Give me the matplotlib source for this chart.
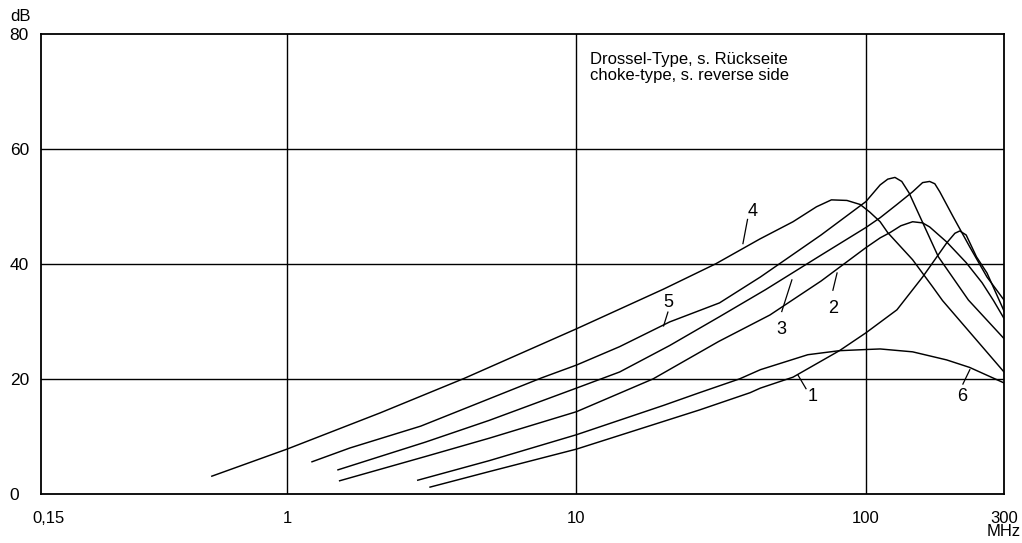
import matplotlib
matplotlib.use("Agg")
import matplotlib.pyplot as plt

plt.rcParams['font.family'] = ['Liberation Sans', 'DejaVu Sans']

# === data (MHz, dB) ===
x_ticks = [0.15, 1, 10, 100, 300]
x_tick_labels = ['0,15', '1', '10', '100', '300\nMHz']
y_ticks = [0, 20, 40, 60, 80]

c4_f = [0.55, 1, 2.1, 4.1, 10, 20, 30.3, 43, 56, 67.5, 76, 86, 95.5, 103, 112, 119, 145, 170, 184, 300]
c4_db = [3.1, 7.8, 14.1, 20.1, 28.7, 35.6, 40.0, 44.3, 47.3, 49.9, 51.1, 51.0, 50.3, 49.0, 47.3, 45.4, 40.7, 36.0, 33.6, 21.2]

c5_f = [1.22, 1.65, 2.9, 7.6, 10, 14.1, 21, 31.2, 43.2, 70, 100, 112, 119, 126, 133, 141, 178, 226, 300]
c5_db = [5.6, 8.0, 11.8, 20.2, 22.4, 25.6, 29.9, 33.2, 37.7, 45.0, 50.8, 53.7, 54.7, 55.0, 54.3, 52.3, 41.2, 33.7, 27.0]

c3_f = [1.5, 3, 5, 10, 14.1, 21, 31.2, 45, 70, 100, 112, 128, 145, 157, 166, 173, 180, 200, 228, 262, 300]
c3_db = [4.2, 9.0, 12.8, 18.4, 21.2, 25.8, 30.8, 35.5, 41.5, 46.3, 48.0, 50.3, 52.5, 54.1, 54.3, 53.9, 52.5, 48.2, 43.0, 37.7, 33.7]

c2_f = [1.52, 3, 5, 10, 18.4, 31, 46.6, 70, 100, 112, 121, 132, 145, 157, 166, 190, 222, 252, 276, 300]
c2_db = [2.3, 6.5, 9.7, 14.3, 20.0, 26.5, 31.1, 37.0, 42.8, 44.5, 45.4, 46.6, 47.3, 47.1, 46.4, 43.8, 40.2, 36.7, 33.6, 30.5]

c1_f = [3.12, 5, 10, 26.6, 39.8, 43.2, 56, 81, 100, 128, 157, 190, 203, 211, 222, 241, 262, 300]
c1_db = [1.2, 3.9, 7.8, 14.6, 17.6, 18.4, 20.3, 24.9, 28.0, 32.0, 37.7, 43.6, 45.3, 45.7, 45.0, 41.2, 38.4, 31.8]

c6_f = [2.83, 5, 10, 20, 26.6, 36.6, 43.2, 63, 81, 100, 112, 145, 190, 228, 300]
c6_db = [2.4, 5.8, 10.3, 15.4, 17.6, 20.0, 21.6, 24.2, 24.9, 25.1, 25.2, 24.7, 23.3, 22.0, 19.3]

curves = [(c1_f, c1_db), (c2_f, c2_db), (c3_f, c3_db), (c4_f, c4_db), (c5_f, c5_db), (c6_f, c6_db)]

# === figure ===
fig = plt.figure(figsize=(10.22, 5.43), dpi=100)
ax = fig.add_axes([0.0401, 0.0902, 0.9423, 0.8481])
ax.set_xscale('log')
ax.set_xlim(0.1413, 300)
ax.set_ylim(0, 80)

for v in [1, 10, 100]:
    ax.axvline(v, color='black', lw=1.0, zorder=1)
for v in [20, 40, 60]:
    ax.axhline(v, color='black', lw=1.0, zorder=1)

for f, db in curves:
    ax.plot(f, db, color='black', lw=1.05, zorder=2)

for s in ax.spines.values():
    s.set_linewidth(1.3)

ax.minorticks_off()
ax.set_xticks(x_ticks)
ax.set_xticklabels(x_tick_labels, fontsize=12, linespacing=0.9)
ax.set_yticks(y_ticks)
ax.set_yticklabels([str(v) for v in y_ticks], fontsize=12.5)
ax.tick_params(axis='x', length=0, pad=12)
ax.tick_params(axis='y', length=0, pad=22.5)
for lab in ax.get_yticklabels():
    lab.set_horizontalalignment('left')

ax.text(-0.0322, 1.036, 'dB', transform=ax.transAxes, ha='left', va='center', fontsize=12)

ax.text(0.570, 0.959, 'Drossel-Type, s. Rückseite\nchoke-type, s. reverse side',
        transform=ax.transAxes, ha='left', va='top', fontsize=12, linespacing=1.05)

# === curve numbers with short leader lines ===
labels = [
    ('4', (40.7, 49.0), (39.0, 47.7), (37.6, 43.5)),
    ('5', (20.7, 33.2), (20.7, 31.6), (20.0, 29.2)),
    ('3', (50.9, 28.5), (55.5, 37.2), (51.2, 31.7)),
    ('2', (76.9, 32.3), (79.5, 38.4), (76.9, 35.4)),
    ('1', (65.6, 16.9), (58.2, 20.7), (62.1, 18.3)),
    ('6', (214.6, 16.9), (228.6, 21.6), (216.3, 19.1)),
]
for txt, pos, a, b in labels:
    ax.text(pos[0], pos[1], txt, ha='center', va='center', fontsize=13)
    ax.plot([a[0], b[0]], [a[1], b[1]], color='black', lw=0.9)

fig.savefig('out.png', dpi=100)
